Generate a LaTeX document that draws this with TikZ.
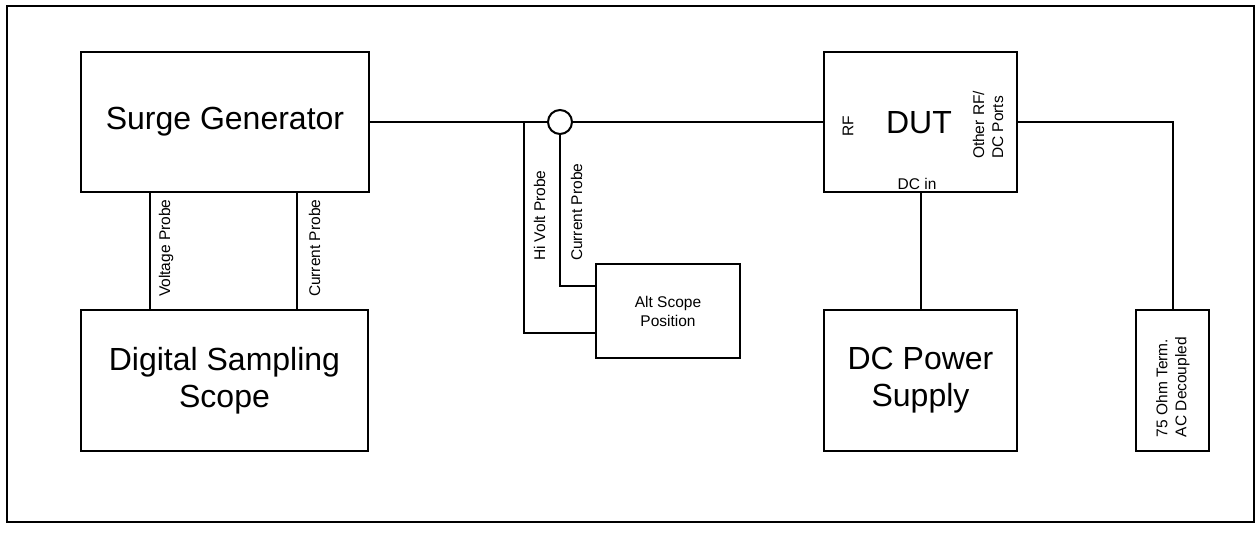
\documentclass[tikz,border=0pt]{standalone}
\usepackage{fontspec}
\setmainfont{Liberation Sans}
\begin{document}
\begin{tikzpicture}[x=1pt,y=-1pt,line width=2pt,
  box/.style={draw,rectangle,inner sep=0pt,align=center},
  big/.style={font=\fontsize{32}{37}\selectfont},
  small/.style={font=\fontsize{15.5}{19}\selectfont},
  lbl/.style={small,inner sep=0pt,align=left},
  vlbl/.style={lbl,rotate=90,anchor=north west}]
\useasboundingbox (0,0) rectangle (1257,534);
\draw (7,6) rectangle (1254,522);
% boxes
\node[box,big,minimum width=288pt,minimum height=140pt] (sg) at (225,122) {Surge Generator};
\node[box,big,minimum width=287pt,minimum height=141pt] (dss) at (224.5,380.5) {Digital Sampling\\Scope};
\node[box,small,minimum width=144pt,minimum height=94pt] (alt) at (668,311) {Alt Scope\\Position};
\node[box,big,minimum width=193pt,minimum height=140pt] (dut) at (920.5,122) {};
\node[big,inner sep=0pt] (duttxt) at (919,123) {DUT};
\node[box,big,minimum width=193pt,minimum height=141pt] (dc) at (920.5,380.5) {DC Power\\Supply};
\node[box,minimum width=73pt,minimum height=141pt] (term) at (1172.5,380.5) {};
\node[draw,circle,minimum size=24pt,inner sep=0pt] (ct) at (560,122) {};
% coordinates
\coordinate (jn) at (524,122);
\coordinate (vpx) at (150,0);
\coordinate (cpx) at (297,0);
% connectors
\draw (sg.south -| vpx) -- (dss.north -| vpx);
\draw (sg.south -| cpx) -- (dss.north -| cpx);
\draw (sg.east) -- (jn) -- (ct.west);
\draw (ct.east) -- (dut.west);
\draw (ct.south) |- ([yshift=25pt]alt.west);
\draw (jn) |- ([yshift=-22pt]alt.west);
\draw (dut.south) -- (dc.north);
\draw (dut.east) -| (term.north);
% labels
\node[vlbl] (lv) at (158,298) {Voltage Probe};
\node[vlbl] (lc) at (308,298) {Current Probe};
\node[vlbl] (lh) at (533,262) {Hi Volt Probe};
\node[vlbl] (lm) at (570,262) {Current Probe};
\node[lbl,rotate=90] (lrf) at (848,126) {RF};
\node[vlbl] (lo) at (972,160) {Other RF/\\DC Ports};
\node[lbl,anchor=base] (ldc) at (917,190) {DC in};
\node[vlbl] (lt) at (1155,438) {75 Ohm Term.\\AC Decoupled};
\end{tikzpicture}
\end{document}
